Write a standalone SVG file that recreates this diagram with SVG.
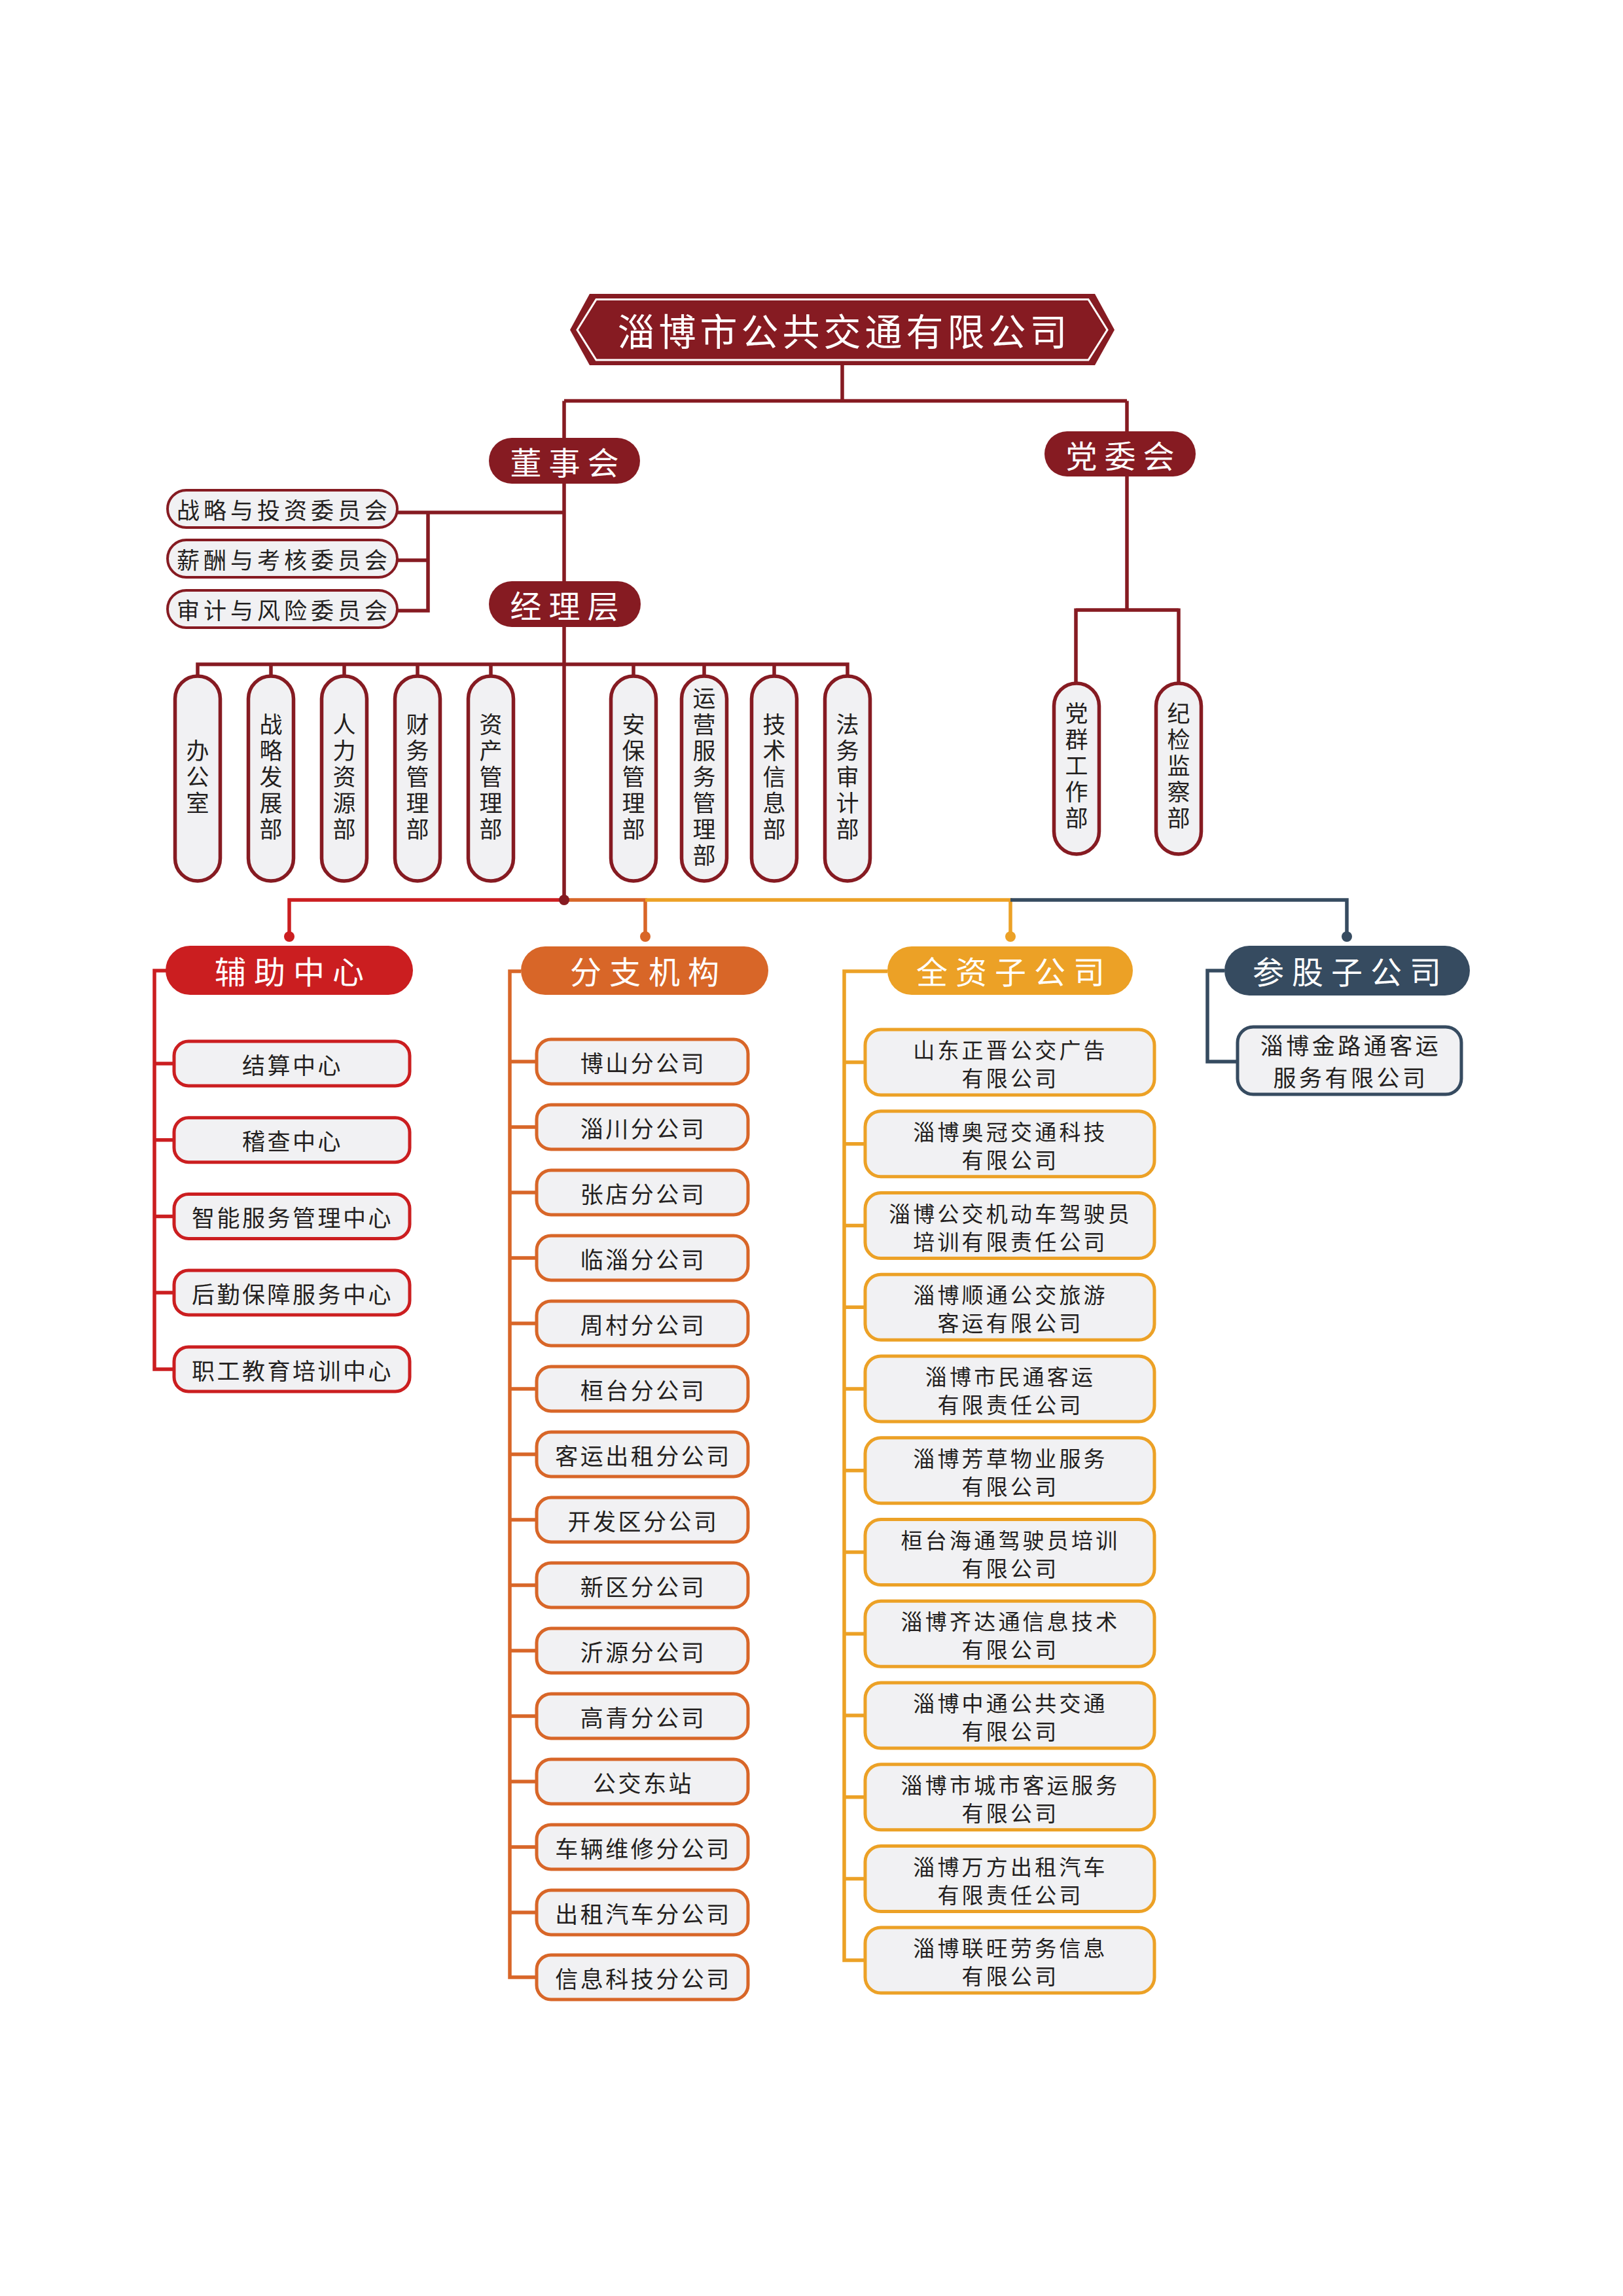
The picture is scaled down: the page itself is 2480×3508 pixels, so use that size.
<svg xmlns="http://www.w3.org/2000/svg" width="2480" height="3508" viewBox="0 0 2480 3508">
<style>
text{font-family:"Noto Sans CJK SC","Noto Sans",sans-serif;text-anchor:middle;dominant-baseline:central}
tspan{dominant-baseline:central}
.ln{fill:none;stroke-width:5.5;stroke-linejoin:miter;stroke-linecap:butt}
.dr{stroke:#861b22}.rd{stroke:#cb1e20}.or{stroke:#d86628}.yl{stroke:#eca126}.nv{stroke:#364b60}
.solid-dr{fill:#861b22}.solid-rd{fill:#cb1e20}.solid-or{fill:#d86628}.solid-yl{fill:#eca126}.solid-nv{fill:#364b60}
.hd{fill:#fff;font-size:48px;letter-spacing:12px}
.lead{fill:#fff;font-size:48px;letter-spacing:11px}
.title{fill:#fff;font-size:57px;letter-spacing:6px}
.box{fill:#f1f1f3;stroke-width:5}
.cm{fill:#f1f1f3;stroke:#861b22;stroke-width:4}
.dp{fill:#f1f1f3;stroke:#861b22;stroke-width:5.5}
.t{fill:#231f20;font-size:35px;letter-spacing:3.5px}
.t2{fill:#231f20;font-size:33px;letter-spacing:4.2px}
.t3{fill:#231f20;font-size:35px;letter-spacing:4.5px}
.cmt{fill:#231f20;font-size:35px;letter-spacing:6px}
.vt{fill:#231f20;font-size:35px;letter-spacing:5px;writing-mode:vertical-rl}
</style>

<g id="connectors">
  <path class="ln dr" d="M1287 558V612.5M862 612.5H1722M862 612.5V1375M1722 612.5V932"/>
  <path class="ln dr" d="M1644 932H1801M1644 929.5V1044M1801 929.5V1044"/>
  <path class="ln dr" d="M607 783H862M607 856H654M607 933H654M654 780.3V935.7"/>
  <path class="ln dr" d="M302 1015H1295M302 1012.3V1033M414 1012.3V1033M526 1012.3V1033M638 1012.3V1033M750 1012.3V1033M968 1012.3V1033M1076 1012.3V1033M1183 1012.3V1033M1295 1012.3V1033"/>
  <path class="ln rd" d="M862 1375H442V1431"/>
  <path class="ln or" d="M862 1375H986V1431"/>
  <path class="ln yl" d="M986 1375H1544V1431"/>
  <path class="ln nv" d="M1544 1375H2058V1431"/>
  <circle class="solid-dr" cx="862" cy="1375" r="8"/>
  <circle class="solid-rd" cx="442" cy="1431" r="8"/>
  <circle class="solid-or" cx="986" cy="1431" r="8"/>
  <circle class="solid-yl" cx="1544" cy="1431" r="8"/>
  <circle class="solid-nv" cx="2058" cy="1431" r="8"/>
  <path class="ln rd" d="M254 1483H236V2092H266M236 1625H266M236 1741.7H266M236 1858.5H266M236 1975H266"/>
  <path class="ln or" d="M796 1484H779V3021H820M779 1622H820M779 1722H820M779 1822H820M779 1922H820M779 2022H820M779 2122H820M779 2222H820M779 2322H820M779 2422H820M779 2522H820M779 2622H820M779 2722H820M779 2822H820M779 2922H820"/>
  <path class="ln yl" d="M1356 1484H1290V2995H1322M1290 1623H1322M1290 1747.7H1322M1290 1872.5H1322M1290 1997.2H1322M1290 2122H1322M1290 2246.7H1322M1290 2371.5H1322M1290 2496.2H1322M1290 2621H1322M1290 2745.7H1322M1290 2870.5H1322"/>
  <path class="ln nv" d="M1871 1483H1845V1622H1891"/>
</g>

<g id="n-root">
  <polygon class="solid-dr" points="871,504 901,449 1673,449 1703,504 1673,558 901,558"/>
  <polygon points="882,504 911,457.5 1663,457.5 1692,504 1663,550 911,550" fill="none" stroke="#fff" stroke-width="3"/>
  <text class="title" x="1290" y="503">淄博市公共交通有限公司</text>
</g>

<g id="n-board">
  <rect class="solid-dr" x="747" y="669" width="231" height="70" rx="35"/>
  <text class="lead" x="868" y="704">董事会</text>
</g>
<g id="n-party">
  <rect class="solid-dr" x="1596" y="659" width="231" height="69" rx="34.5"/>
  <text class="lead" x="1717" y="693.5">党委会</text>
</g>
<g id="n-manager">
  <rect class="solid-dr" x="747" y="888" width="232" height="70" rx="35"/>
  <text class="lead" x="868" y="923">经理层</text>
</g>

<g id="n-committees">
  <g id="n-c1"><rect class="cm" x="256" y="749" width="351" height="57" rx="28.5"/><text class="cmt" x="434" y="777.5">战略与投资委员会</text></g>
  <g id="n-c2"><rect class="cm" x="256" y="825" width="351" height="57" rx="28.5"/><text class="cmt" x="434" y="853.5">薪酬与考核委员会</text></g>
  <g id="n-c3"><rect class="cm" x="256" y="902" width="351" height="57" rx="28.5"/><text class="cmt" x="434" y="930.5">审计与风险委员会</text></g>
</g>

<g id="n-departments">
  <g id="n-d1"><rect class="dp" x="267.5" y="1033" width="69" height="313" rx="34.5"/><text class="vt" x="302" y="1189">办公室</text></g>
  <g id="n-d2"><rect class="dp" x="379.5" y="1033" width="69" height="313" rx="34.5"/><text class="vt" x="414" y="1189">战略发展部</text></g>
  <g id="n-d3"><rect class="dp" x="491.5" y="1033" width="69" height="313" rx="34.5"/><text class="vt" x="526" y="1189">人力资源部</text></g>
  <g id="n-d4"><rect class="dp" x="603.5" y="1033" width="69" height="313" rx="34.5"/><text class="vt" x="638" y="1189">财务管理部</text></g>
  <g id="n-d5"><rect class="dp" x="715.5" y="1033" width="69" height="313" rx="34.5"/><text class="vt" x="750" y="1189">资产管理部</text></g>
  <g id="n-d6"><rect class="dp" x="933.5" y="1033" width="69" height="313" rx="34.5"/><text class="vt" x="968" y="1189">安保管理部</text></g>
  <g id="n-d7"><rect class="dp" x="1041.5" y="1033" width="69" height="313" rx="34.5"/><text class="vt" x="1076" y="1189">运营服务管理部</text></g>
  <g id="n-d8"><rect class="dp" x="1148.5" y="1033" width="69" height="313" rx="34.5"/><text class="vt" x="1183" y="1189">技术信息部</text></g>
  <g id="n-d9"><rect class="dp" x="1260.5" y="1033" width="69" height="313" rx="34.5"/><text class="vt" x="1295" y="1189">法务审计部</text></g>
  <g id="n-p1"><rect class="dp" x="1610.5" y="1044" width="69" height="261" rx="34.5"/><text class="vt" x="1645" y="1172">党群工作部</text></g>
  <g id="n-p2"><rect class="dp" x="1766.5" y="1044" width="69" height="261" rx="34.5"/><text class="vt" x="1801" y="1172">纪检监察部</text></g>
</g>

<g id="n-aux">
  <rect class="solid-rd" x="253" y="1445" width="378" height="75" rx="37.5"/>
  <text class="hd" x="448" y="1482">辅助中心</text>
</g>
<g id="n-aux-items" stroke="#cb1e20">
  <g id="n-a1"><rect class="box" x="266" y="1591" width="360" height="68" rx="22"/><text class="t" x="447" y="1625" stroke="none">结算中心</text></g>
  <g id="n-a2"><rect class="box" x="266" y="1707.7" width="360" height="68" rx="22"/><text class="t" x="447" y="1741.7" stroke="none">稽查中心</text></g>
  <g id="n-a3"><rect class="box" x="266" y="1824.5" width="360" height="68" rx="22"/><text class="t" x="447" y="1858.5" stroke="none">智能服务管理中心</text></g>
  <g id="n-a4"><rect class="box" x="266" y="1941" width="360" height="68" rx="22"/><text class="t" x="447" y="1975" stroke="none">后勤保障服务中心</text></g>
  <g id="n-a5"><rect class="box" x="266" y="2058" width="360" height="68" rx="22"/><text class="t" x="447" y="2092" stroke="none">职工教育培训中心</text></g>
</g>

<g id="n-branch">
  <rect class="solid-or" x="796" y="1446" width="378" height="74" rx="37"/>
  <text class="hd" x="991" y="1482">分支机构</text>
</g>
<g id="n-branch-items" stroke="#d86628">
  <g id="n-b1"><rect class="box" x="820" y="1588" width="323" height="68" rx="22"/><text class="t" x="983" y="1622" stroke="none">博山分公司</text></g>
  <g id="n-b2"><rect class="box" x="820" y="1688" width="323" height="68" rx="22"/><text class="t" x="983" y="1722" stroke="none">淄川分公司</text></g>
  <g id="n-b3"><rect class="box" x="820" y="1788" width="323" height="68" rx="22"/><text class="t" x="983" y="1822" stroke="none">张店分公司</text></g>
  <g id="n-b4"><rect class="box" x="820" y="1888" width="323" height="68" rx="22"/><text class="t" x="983" y="1922" stroke="none">临淄分公司</text></g>
  <g id="n-b5"><rect class="box" x="820" y="1988" width="323" height="68" rx="22"/><text class="t" x="983" y="2022" stroke="none">周村分公司</text></g>
  <g id="n-b6"><rect class="box" x="820" y="2088" width="323" height="68" rx="22"/><text class="t" x="983" y="2122" stroke="none">桓台分公司</text></g>
  <g id="n-b7"><rect class="box" x="820" y="2188" width="323" height="68" rx="22"/><text class="t" x="983" y="2222" stroke="none">客运出租分公司</text></g>
  <g id="n-b8"><rect class="box" x="820" y="2288" width="323" height="68" rx="22"/><text class="t" x="983" y="2322" stroke="none">开发区分公司</text></g>
  <g id="n-b9"><rect class="box" x="820" y="2388" width="323" height="68" rx="22"/><text class="t" x="983" y="2422" stroke="none">新区分公司</text></g>
  <g id="n-b10"><rect class="box" x="820" y="2488" width="323" height="68" rx="22"/><text class="t" x="983" y="2522" stroke="none">沂源分公司</text></g>
  <g id="n-b11"><rect class="box" x="820" y="2588" width="323" height="68" rx="22"/><text class="t" x="983" y="2622" stroke="none">高青分公司</text></g>
  <g id="n-b12"><rect class="box" x="820" y="2688" width="323" height="68" rx="22"/><text class="t" x="983" y="2722" stroke="none">公交东站</text></g>
  <g id="n-b13"><rect class="box" x="820" y="2788" width="323" height="68" rx="22"/><text class="t" x="983" y="2822" stroke="none">车辆维修分公司</text></g>
  <g id="n-b14"><rect class="box" x="820" y="2888" width="323" height="68" rx="22"/><text class="t" x="983" y="2922" stroke="none">出租汽车分公司</text></g>
  <g id="n-b15"><rect class="box" x="820" y="2987" width="323" height="68" rx="22"/><text class="t" x="983" y="3021" stroke="none">信息科技分公司</text></g>
</g>

<g id="n-whole">
  <rect class="solid-yl" x="1356" y="1446" width="375" height="74" rx="37"/>
  <text class="hd" x="1550" y="1482">全资子公司</text>
</g>
<g id="n-whole-items" stroke="#eca126">
  <g id="n-w1"><rect class="box" x="1322" y="1573" width="442" height="100" rx="24"/><text class="t2" stroke="none"><tspan x="1544" y="1603">山东正晋公交广告</tspan><tspan x="1544" y="1646">有限公司</tspan></text></g>
  <g id="n-w2"><rect class="box" x="1322" y="1697.7" width="442" height="100" rx="24"/><text class="t2" stroke="none"><tspan x="1544" y="1727.7">淄博奥冠交通科技</tspan><tspan x="1544" y="1770.7">有限公司</tspan></text></g>
  <g id="n-w3"><rect class="box" x="1322" y="1822.5" width="442" height="100" rx="24"/><text class="t2" stroke="none"><tspan x="1544" y="1852.5">淄博公交机动车驾驶员</tspan><tspan x="1544" y="1895.5">培训有限责任公司</tspan></text></g>
  <g id="n-w4"><rect class="box" x="1322" y="1947.2" width="442" height="100" rx="24"/><text class="t2" stroke="none"><tspan x="1544" y="1977.2">淄博顺通公交旅游</tspan><tspan x="1544" y="2020.2">客运有限公司</tspan></text></g>
  <g id="n-w5"><rect class="box" x="1322" y="2072" width="442" height="100" rx="24"/><text class="t2" stroke="none"><tspan x="1544" y="2102">淄博市民通客运</tspan><tspan x="1544" y="2145">有限责任公司</tspan></text></g>
  <g id="n-w6"><rect class="box" x="1322" y="2196.7" width="442" height="100" rx="24"/><text class="t2" stroke="none"><tspan x="1544" y="2226.7">淄博芳草物业服务</tspan><tspan x="1544" y="2269.7">有限公司</tspan></text></g>
  <g id="n-w7"><rect class="box" x="1322" y="2321.5" width="442" height="100" rx="24"/><text class="t2" stroke="none"><tspan x="1544" y="2351.5">桓台海通驾驶员培训</tspan><tspan x="1544" y="2394.5">有限公司</tspan></text></g>
  <g id="n-w8"><rect class="box" x="1322" y="2446.2" width="442" height="100" rx="24"/><text class="t2" stroke="none"><tspan x="1544" y="2476.2">淄博齐达通信息技术</tspan><tspan x="1544" y="2519.2">有限公司</tspan></text></g>
  <g id="n-w9"><rect class="box" x="1322" y="2571" width="442" height="100" rx="24"/><text class="t2" stroke="none"><tspan x="1544" y="2601">淄博中通公共交通</tspan><tspan x="1544" y="2644">有限公司</tspan></text></g>
  <g id="n-w10"><rect class="box" x="1322" y="2695.7" width="442" height="100" rx="24"/><text class="t2" stroke="none"><tspan x="1544" y="2725.7">淄博市城市客运服务</tspan><tspan x="1544" y="2768.7">有限公司</tspan></text></g>
  <g id="n-w11"><rect class="box" x="1322" y="2820.5" width="442" height="100" rx="24"/><text class="t2" stroke="none"><tspan x="1544" y="2850.5">淄博万方出租汽车</tspan><tspan x="1544" y="2893.5">有限责任公司</tspan></text></g>
  <g id="n-w12"><rect class="box" x="1322" y="2945" width="442" height="100" rx="24"/><text class="t2" stroke="none"><tspan x="1544" y="2975">淄博联旺劳务信息</tspan><tspan x="1544" y="3018">有限公司</tspan></text></g>
</g>

<g id="n-share">
  <rect class="solid-nv" x="1871" y="1445" width="375" height="76" rx="38"/>
  <text class="hd" x="2064" y="1482">参股子公司</text>
</g>
<g id="n-share-items" stroke="#364b60">
  <g id="n-s1"><rect class="box" x="1891" y="1569" width="342" height="103" rx="24"/><text class="t3" stroke="none"><tspan x="2064" y="1595">淄博金路通客运</tspan><tspan x="2064" y="1644">服务有限公司</tspan></text></g>
</g>
</svg>
